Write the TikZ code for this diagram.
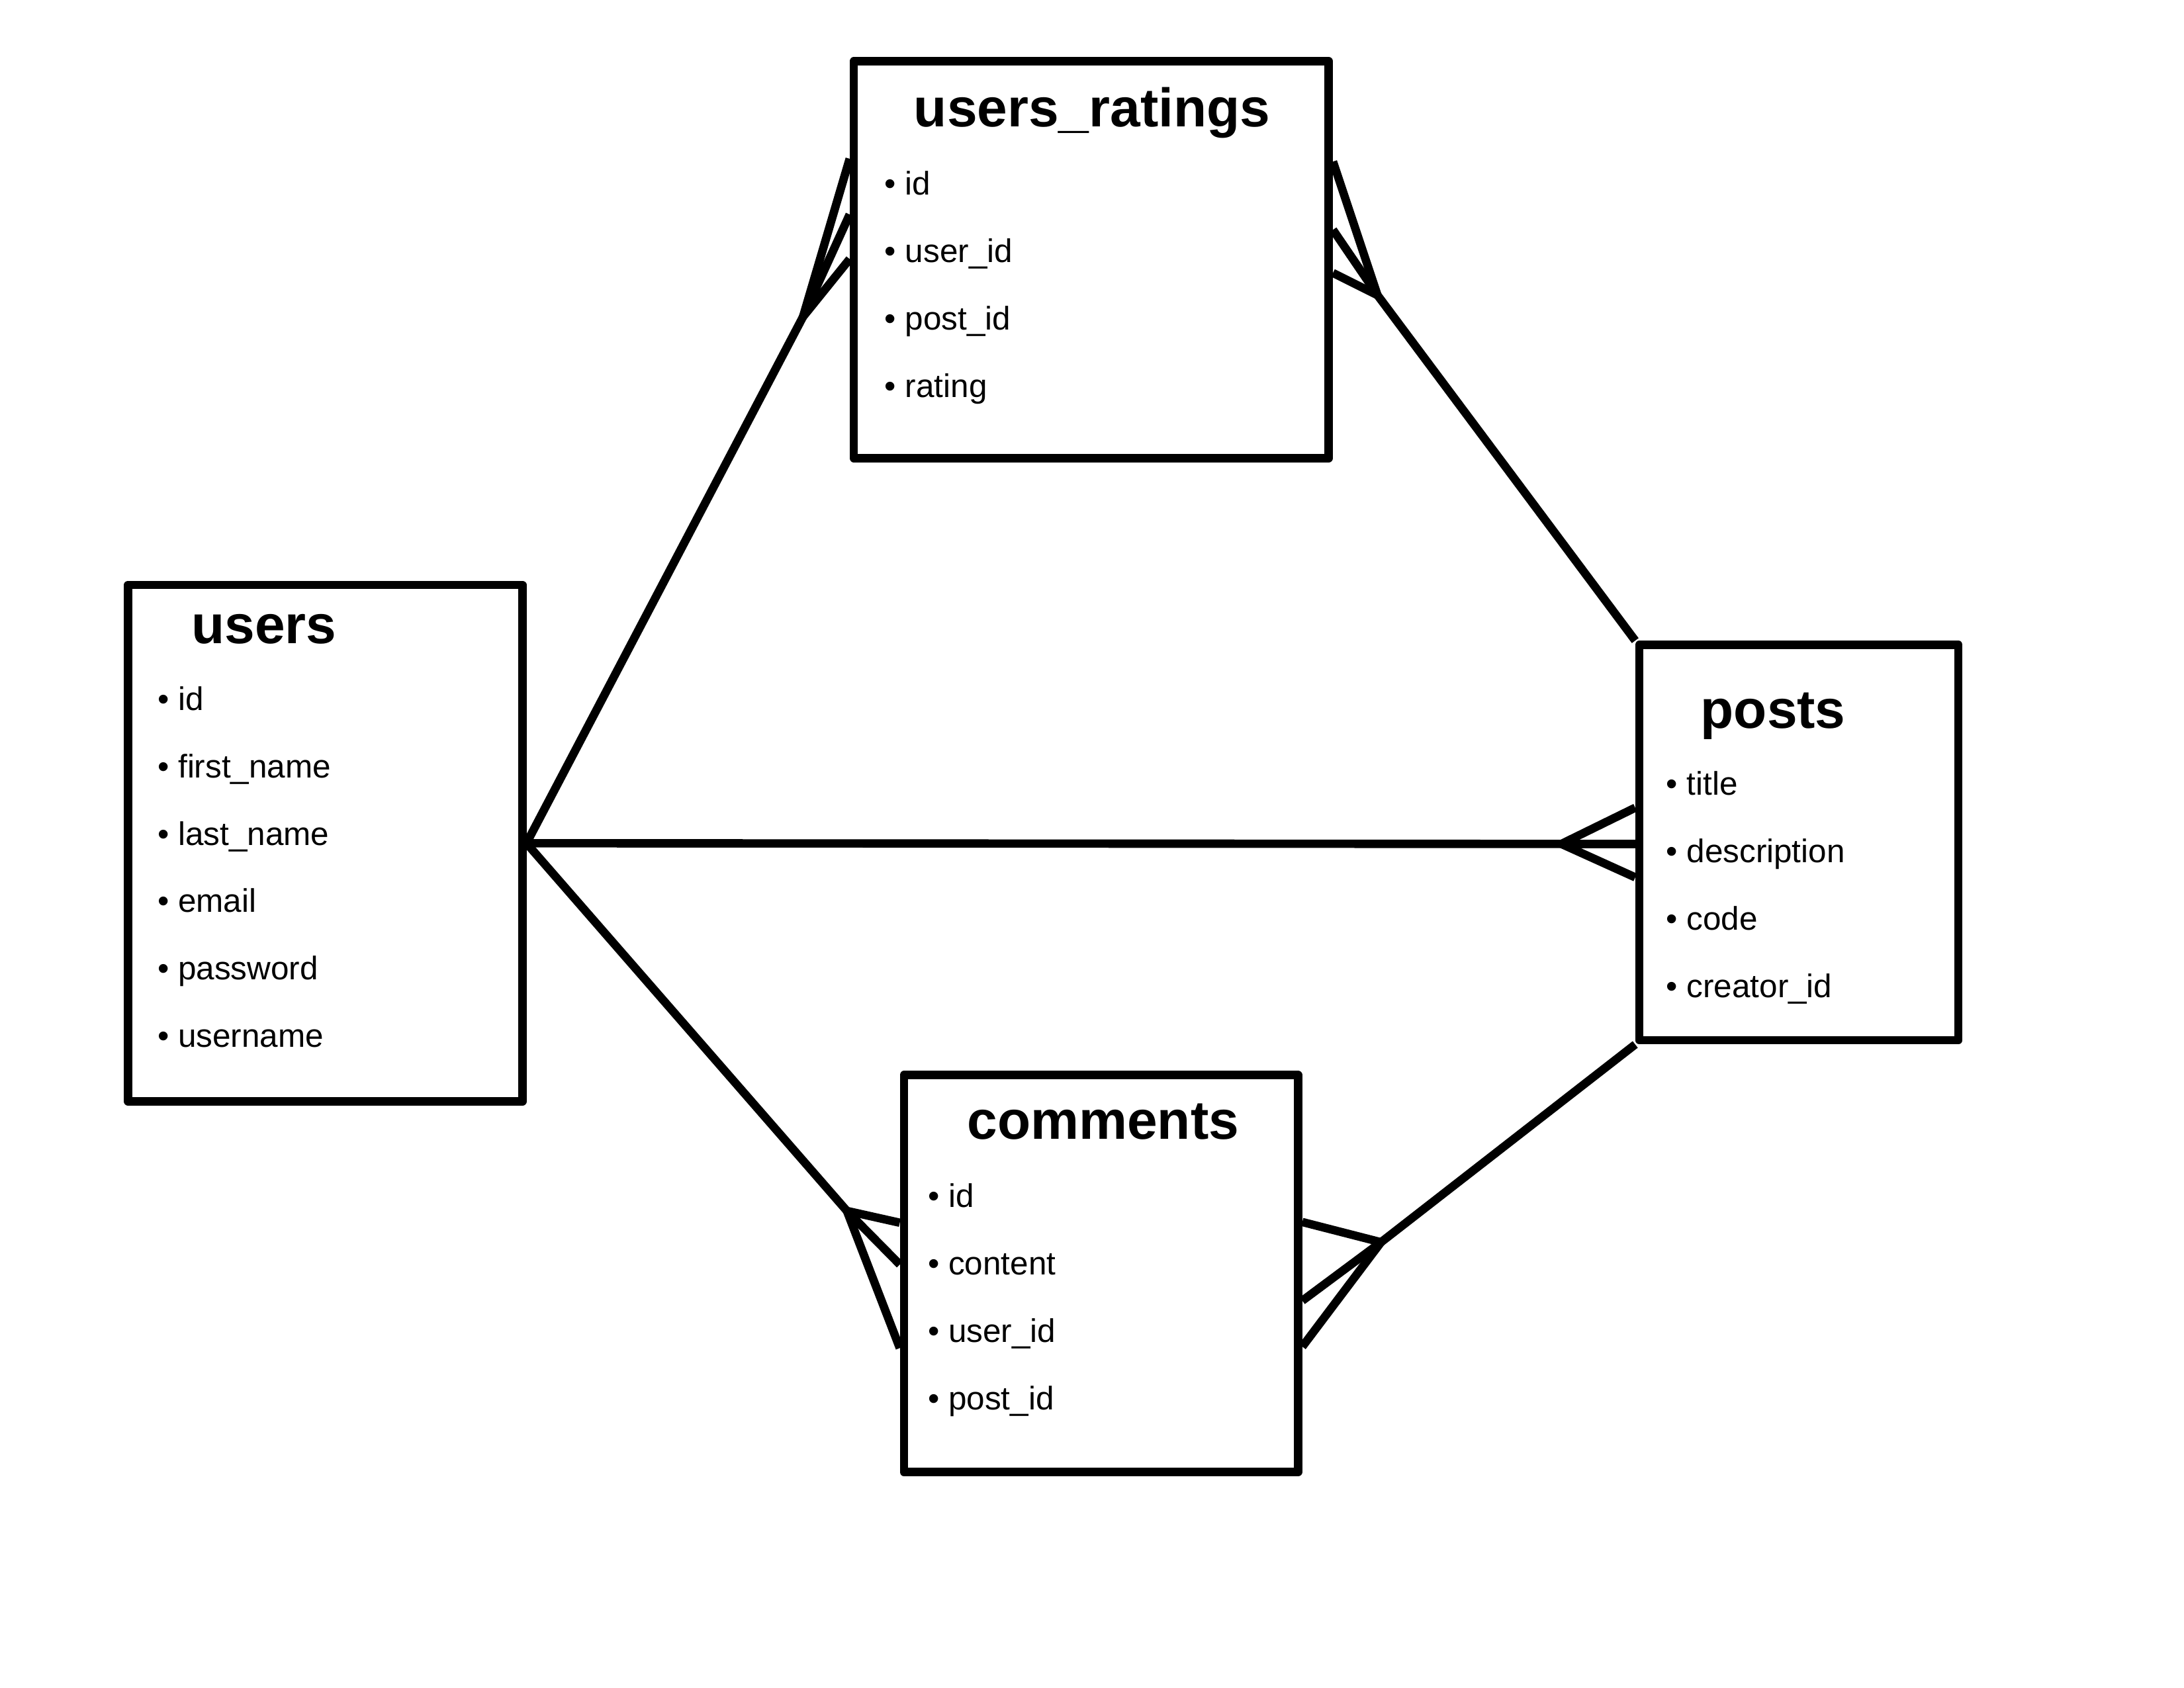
\documentclass[tikz,border=0pt]{standalone}
\usepackage{fontspec}
\setmainfont{Liberation Sans}
\usetikzlibrary{positioning, calc}

\begin{document}
\begin{tikzpicture}[x=1pt, y=-1pt,
    tablebox/.style={draw, line width=6pt, line join=round, inner sep=0pt},
    tabletitle/.style={anchor=base, font=\fontsize{39}{46}\selectfont\bfseries},
    field/.style={anchor=base west, inner sep=0pt, font=\fontsize{23.5}{28}\selectfont},
    link/.style={line width=6pt}]

    % Canvas
    \fill[white] (0,0) rectangle (1568,1212);
    \useasboundingbox (0,0) rectangle (1568,1212);

    % Tables
    \node[tablebox, minimum width=341pt, minimum height=285pt] (ratings) at (783.5,186.5) {};
    \node[tablebox, minimum width=283pt, minimum height=371pt] (users) at (233.5,605.5) {};
    \node[tablebox, minimum width=229pt, minimum height=284pt] (posts) at (1291.5,605) {};
    \node[tablebox, minimum width=283pt, minimum height=285pt] (comments) at (790.5,914.5) {};

    % Titles
    \node[tabletitle] (ratings-title) at (784,91) {users\_ratings};
    \node[tabletitle] (users-title) at (189.5,462) {users};
    \node[tabletitle] (posts-title) at (1273,523) {posts};
    \node[tabletitle] (comments-title) at (792,818) {comments};

    % Fields
    \foreach \f [count=\i] in {id, user\_id, post\_id, rating}
        \node[field] (ratings-\i) at (635,{140+48.5*(\i-1)}) {• \f};
    \foreach \f [count=\i] in {id, first\_name, last\_name, email, password, username}
        \node[field] (users-\i) at (113,{510+48.4*(\i-1)}) {• \f};
    \foreach \f [count=\i] in {title, description, code, creator\_id}
        \node[field] (posts-\i) at (1196,{571+48.4*(\i-1)}) {• \f};
    \foreach \f [count=\i] in {id, content, user\_id, post\_id}
        \node[field] (comments-\i) at (666,{867+48.4*(\i-1)}) {• \f};

    % Crow's feet vertices
    \coordinate (ur-foot) at (576.5,227.5);
    \coordinate (rp-foot) at (989,212);
    \coordinate (up-foot) at ($(posts.west)+(-53,1)$);
    \coordinate (uc-foot) at (608,869.5);
    \coordinate (cp-foot) at (991.5,892);

    % users -- users_ratings
    \draw[link] (users.east) -- (ur-foot);
    \draw[link] (ur-foot) -- ($(ratings.north west)+(0,73)$);
    \draw[link] (ur-foot) -- ($(ratings.north west)+(0,113)$);
    \draw[link] (ur-foot) -- ($(ratings.north west)+(0,145)$);

    % posts -- users_ratings
    \draw[link] (posts.north west) -- (rp-foot);
    \draw[link] (rp-foot) -- ($(ratings.north east)+(0,75)$);
    \draw[link] (rp-foot) -- ($(ratings.north east)+(0,124)$);
    \draw[link] (rp-foot) -- ($(ratings.north east)+(0,155)$);

    % users -- posts
    \draw[link] (users.east) -- (up-foot);
    \draw[link] (up-foot) -- ($(posts.west)+(0,-25)$);
    \draw[link] (up-foot) -- ($(posts.west)+(0,1)$);
    \draw[link] (up-foot) -- ($(posts.west)+(0,25)$);

    % users -- comments
    \draw[link] (users.east) -- (uc-foot);
    \draw[link] (uc-foot) -- ($(comments.north west)+(0,109)$);
    \draw[link] (uc-foot) -- ($(comments.north west)+(0,139)$);
    \draw[link] (uc-foot) -- ($(comments.north west)+(0,199)$);

    % posts -- comments
    \draw[link] (posts.south west) -- (cp-foot);
    \draw[link] (cp-foot) -- ($(comments.north east)+(0,108.5)$);
    \draw[link] (cp-foot) -- ($(comments.north east)+(0,165)$);
    \draw[link] (cp-foot) -- ($(comments.north east)+(0,198)$);

\end{tikzpicture}
\end{document}
